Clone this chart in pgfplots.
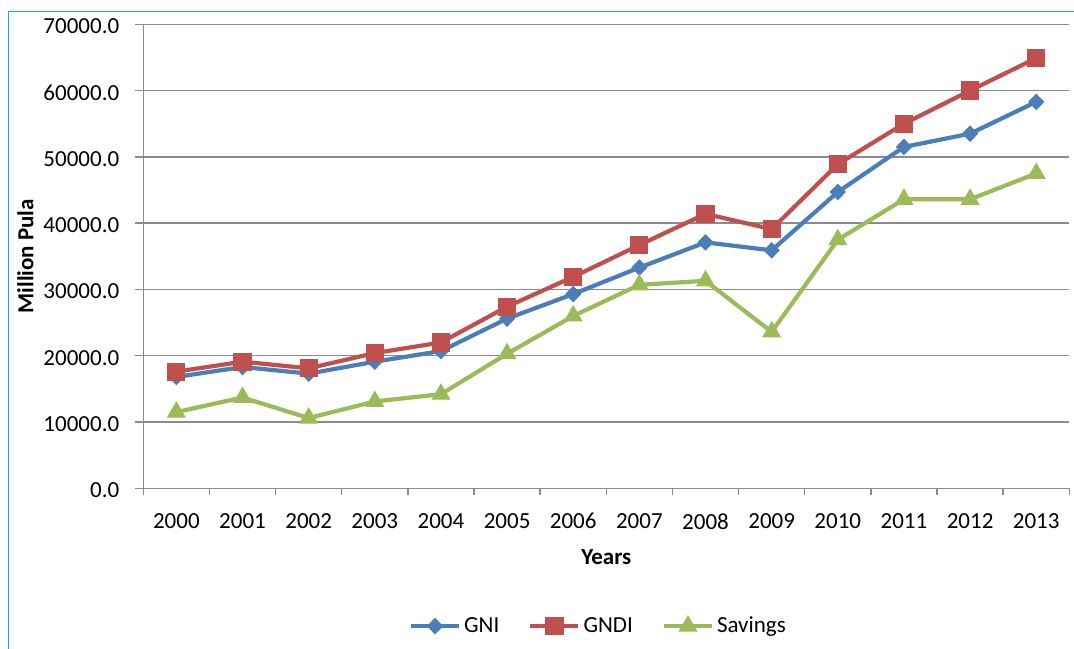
\documentclass[border=0pt]{standalone}
\usepackage{fontspec}
\setmainfont{Carlito}
\usepackage{pgfplots}
\pgfplotsset{compat=1.18}

\definecolor{gniblue}{RGB}{74,126,187}
\definecolor{gndired}{RGB}{192,80,77}
\definecolor{savgreen}{RGB}{155,187,89}
\definecolor{frameblue}{RGB}{20,170,230}
\definecolor{axgray}{RGB}{140,140,140}

\begin{document}
\begin{tikzpicture}[font=\fontsize{11.5}{13.5}\selectfont]
\begin{axis}[
    scale only axis,
    width=463pt, height=232pt,
    xmin=-0.5, xmax=13.5,
    ymin=0, ymax=70000,
    axis x line*=bottom,
    axis y line*=left,
    axis line style={axgray, line width=0.7pt, -},
    xtick={0,1,...,13},
    xticklabels={2000,2001,2002,2003,2004,2005,2006,2007,2008,2009,2010,2011,2012,2013},
    minor xtick={-0.5,0.5,...,13.5},
    ytick={0,10000,...,70000},
    tick align=outside,
    major tick length=4pt,
    minor tick length=3.5pt,
    tick style={axgray, line width=0.7pt},
    major x tick style={draw=none},
    ymajorgrids,
    grid style={axgray, line width=0.7pt},
    scaled y ticks=false,
    yticklabel style={
        /pgf/number format/fixed,
        /pgf/number format/fixed zerofill,
        /pgf/number format/precision=1,
        /pgf/number format/1000 sep={},
        /pgf/number format/assume math mode=true,
        xshift=-4.5pt, yshift=-1pt},
    xticklabel style={yshift=-5pt},
    xlabel={\textbf{Years}},
    ylabel={\textbf{Million Pula}},
    xlabel style={at={(axis description cs:0.5,0)}, anchor=center, yshift=-34.4pt},
    ylabel style={at={(axis description cs:0,0.5)}, anchor=center, yshift=59pt},
    legend columns=-1,
    legend style={draw=none, fill=none, at={(0.492,-0.297)}, anchor=center,
        nodes={inner xsep=1.5pt},
        /tikz/every even column/.append style={column sep=13pt}},
    legend image code/.code={
        \draw[mark repeat=2, mark phase=2, #1] plot coordinates {(0pt,0pt) (12pt,0pt) (24pt,0pt)};
    },
]
\addplot[gniblue, line width=2.1pt, mark=diamond*, mark size=3.8pt, mark options={solid, xscale=1.3, line width=0.5pt}]
coordinates {(0,16800) (1,18300) (2,17300) (3,19100) (4,20700) (5,25600) (6,29300) (7,33300) (8,37100) (9,35900) (10,44700) (11,51500) (12,53500) (13,58300)};
\addplot[gndired, line width=2.1pt, mark=square*, mark size=4.3pt, mark options={solid, line width=0.5pt}]
coordinates {(0,17600) (1,19100) (2,18100) (3,20400) (4,22000) (5,27400) (6,31900) (7,36700) (8,41400) (9,39100) (10,48900) (11,55000) (12,60000) (13,64900)};
\addplot[savgreen, line width=2.1pt, mark=triangle*, mark size=5pt, mark options={solid, line width=0.5pt}]
coordinates {(0,11500) (1,13700) (2,10600) (3,13100) (4,14200) (5,20300) (6,26000) (7,30700) (8,31300) (9,23600) (10,37500) (11,43600) (12,43600) (13,47500)};
\legend{GNI, GNDI, Savings}
\end{axis}
\draw[frameblue, line width=0.7pt] (-67.5pt,-85pt) -- (-67.5pt,238.3pt) -- (470pt,238.3pt);
\pgfresetboundingbox
\path[use as bounding box] (-71.65pt,-79.85pt) rectangle (465.35pt,244.15pt);
\end{tikzpicture}
\end{document}
